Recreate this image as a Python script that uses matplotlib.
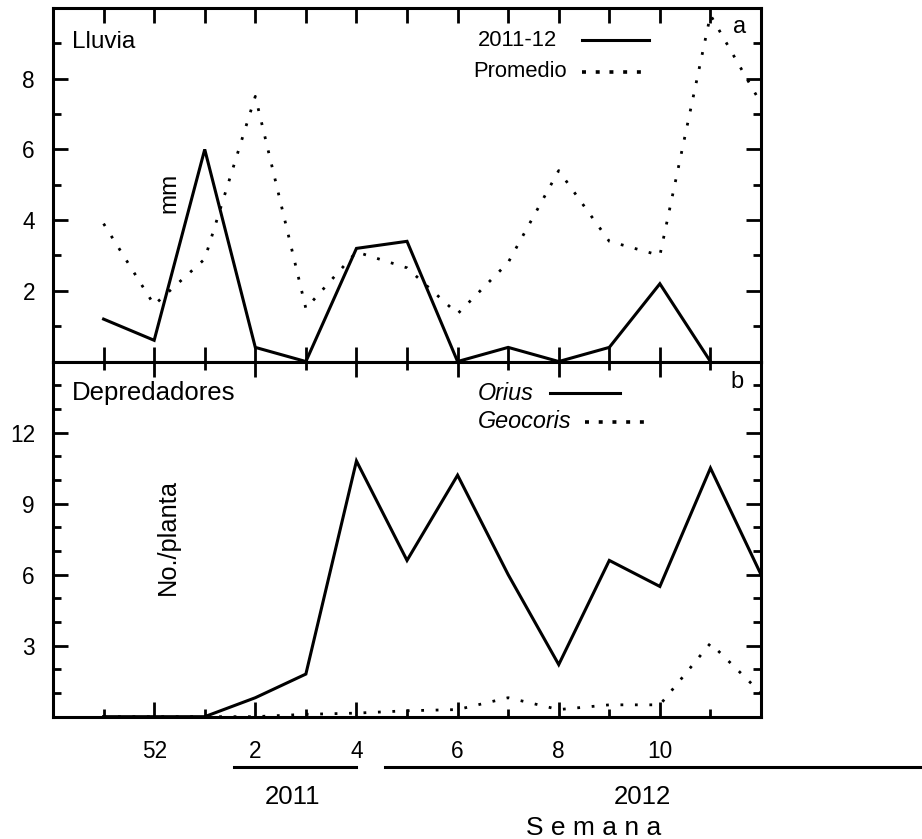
import numpy as np
import matplotlib
matplotlib.use('Agg')
import matplotlib.pyplot as plt
from matplotlib.ticker import MultipleLocator

plt.rcParams['font.family'] = ['Liberation Sans', 'DejaVu Sans']

# semanas (51 y 52 de 2011, 1-12 de 2012)
semana = [51, 52, 1, 2, 3, 4, 5, 6, 7, 8, 9, 10, 11, 12]
pos = np.arange(len(semana)) - 1

# lluvia (mm)
lluvia_2011_12 = [1.2, 0.6, 6.0, 0.4, 0.0, 3.2, 3.4, 0.0, 0.4, 0.0, 0.4, 2.2, 0.0]
lluvia_promedio = [3.9, 1.6, 2.9, 7.5, 1.5, 3.1, 2.65, 1.35, 2.8, 5.4, 3.4, 3.0, 9.8, 7.3]

# depredadores (No./planta)
orius = [0, 0, 0, 0.8, 1.8, 10.8, 6.6, 10.2, 6.0, 2.2, 6.6, 5.5, 10.5, 6.0]
geocoris = [0, 0, 0, 0, 0.1, 0.15, 0.25, 0.3, 0.8, 0.3, 0.5, 0.5, 3.1, 1.0]

lw = 2.2
dots = (0, (1, 4.2))
fs_tick = 16.3

fig = plt.figure(figsize=(9.22, 8.39), dpi=100)
ax1 = fig.add_axes([0.0575, 0.5691, 0.7679, 0.4214])
ax2 = fig.add_axes([0.0575, 0.1458, 0.7679, 0.4233])

for ax in (ax1, ax2):
    ax.set_xlim(-2, 12)
    for s in ax.spines.values():
        s.set_linewidth(lw)
    ax.tick_params(which='both', direction='in', top=True, right=True,
                   width=2, labelsize=fs_tick)
    ax.tick_params(which='major', length=11)
    ax.tick_params(which='minor', length=5.5)
    ax.tick_params(axis='y', pad=13)

# --- panel a: lluvia ---
n = len(lluvia_2011_12)
ax1.plot(pos[:n], lluvia_2011_12, color='black', lw=lw, solid_joinstyle='miter')
ax1.plot(pos, lluvia_promedio, color='black', lw=2, linestyle=dots, clip_on=False)
ax1.set_ylim(0, 10)
ax1.set_yticks([2, 4, 6, 8])
ax1.yaxis.set_minor_locator(MultipleLocator(1))
ax1.set_xticks(pos[:-1])
ax1.tick_params(axis='x', labelbottom=False)

ax1.text(0.027, 0.904, 'Lluvia', transform=ax1.transAxes, fontsize=17.5, va='center')
ax1.text(0.165, 0.477, 'mm', transform=ax1.transAxes, fontsize=17.5, rotation=90,
         ha='center', va='center')
ax1.text(0.970, 0.946, 'a', transform=ax1.transAxes, fontsize=17, ha='center', va='center')
ax1.text(0.600, 0.909, '2011-12', transform=ax1.transAxes, fontsize=15.8, va='center')
ax1.plot([0.747, 0.842], [0.909, 0.909], transform=ax1.transAxes, color='black', lw=lw)
ax1.text(0.593, 0.819, 'Promedio', transform=ax1.transAxes, fontsize=15.8, va='center')
ax1.plot([0.747, 0.843], [0.819, 0.819], transform=ax1.transAxes, color='black', lw=2.6,
         linestyle=(0, (1.1, 2.7)))

# --- panel b: depredadores ---
ax2.plot(pos, orius, color='black', lw=lw, solid_joinstyle='miter')
ax2.plot(pos, geocoris, color='black', lw=2, linestyle=dots)
ax2.set_ylim(0, 15)
ax2.set_yticks([3, 6, 9, 12])
ax2.yaxis.set_minor_locator(MultipleLocator(1))
lab_pos = [p for p in pos if p % 2 == 0 and 0 <= p <= 10]
ax2.set_xticks(lab_pos)
ax2.set_xticklabels([str(semana[p + 1]) for p in lab_pos])
ax2.set_xticks([p for p in pos if p % 2 != 0], minor=True)
ax2.tick_params(axis='x', pad=17)

ax2.text(0.027, 0.910, 'Depredadores', transform=ax2.transAxes, fontsize=18.5, va='center')
ax2.text(0.162, 0.506, 'No./planta', transform=ax2.transAxes, fontsize=18.3, rotation=90,
         ha='center', va='center')
ax2.text(0.966, 0.942, 'b', transform=ax2.transAxes, fontsize=17, ha='center', va='center')
ax2.text(0.600, 0.911, 'Orius', transform=ax2.transAxes, fontsize=16.8, style='italic', va='center')
ax2.plot([0.702, 0.801], [0.911, 0.911], transform=ax2.transAxes, color='black', lw=lw)
ax2.text(0.600, 0.830, 'Geocoris', transform=ax2.transAxes, fontsize=16.8, style='italic', va='center')
ax2.plot([0.751, 0.843], [0.830, 0.830], transform=ax2.transAxes, color='black', lw=2.6,
         linestyle=(0, (1.1, 2.7)))

# años bajo el eje
ax2.plot([0.2556, 0.428], [-0.1416, -0.1416], transform=ax2.transAxes, color='black',
         lw=lw, clip_on=False)
ax2.plot([0.469, 1.23], [-0.1416, -0.1416], transform=ax2.transAxes, color='black',
         lw=lw, clip_on=False)
ax2.text(0.3376, -0.226, '2011', transform=ax2.transAxes, fontsize=18.5, ha='center', va='center')
ax2.text(0.833, -0.226, '2012', transform=ax2.transAxes, fontsize=18.5, ha='center', va='center')
ax2.text(0.764, -0.3134, 'S e m a n a', transform=ax2.transAxes, fontsize=19,
         ha='center', va='center')

fig.savefig('out.png', dpi=100)
